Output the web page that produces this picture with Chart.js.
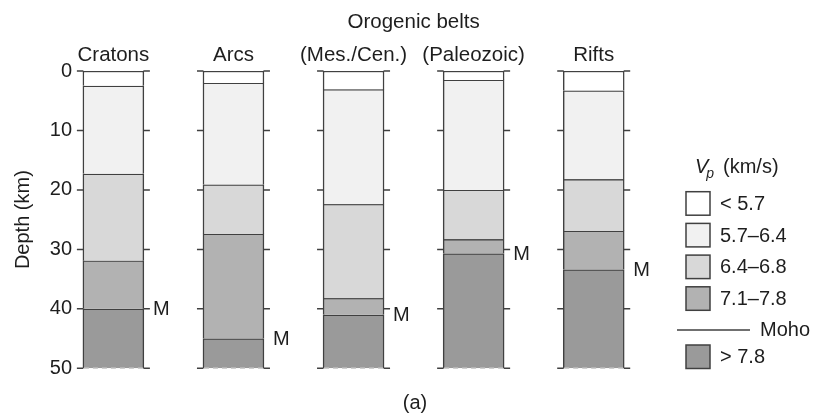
<!DOCTYPE html>
<html><head><meta charset="utf-8">
<script src="https://cdn.jsdelivr.net/npm/chart.js@4"></script>
<style>html,body{margin:0;padding:0;background:#fff}#wrap{width:813px;height:417px}</style>
</head><body><div id="wrap"><canvas id="c" width="813" height="417"></canvas></div>
<script>
// ---- data ----
const categories = ['Cratons', 'Arcs', '(Mes./Cen.)', '(Paleozoic)', 'Rifts'];
const groupTitle = 'Orogenic belts';
const groupSpan = [2, 3];            // categories covered by the group title
const surfaceDepth = 0;
const baseDepth = 50;
const base57 = [2.5, 2.0, 3.1, 1.5, 3.3];      // base of < 5.7 layer (km)
const base64 = [17.3, 19.1, 22.4, 20.0, 18.2]; // base of 5.7–6.4 layer
const base68 = [31.9, 27.4, 38.2, 28.3, 26.9]; // base of 6.4–6.8 layer
const moho   = [40.0, 45.0, 41.0, 30.7, 33.4]; // Moho depth
const depthTicks = [0, 10, 20, 30, 40, 50];
const layerNames = ['< 5.7', '5.7–6.4', '6.4–6.8', '7.1–7.8', '> 7.8'];
const layerColors = ['#ffffff', '#f1f1f1', '#d8d8d8', '#b2b2b2', '#9a9a9a'];
const mohoLabel = 'M';
const mohoLegend = 'Moho';
const yTitle = 'Depth (km)';
const panelLabel = '(a)';

// ---- build ----
const FONT = '"Liberation Sans", Arial, Helvetica, sans-serif';
const INK = '#1e1e1e';
const LINE = '#404040';
const LW = 1.5;
const BAR_W = 61;
const allSurface = categories.map(() => surfaceDepth);
const allBase = categories.map(() => baseDepth);
const bounds = [allSurface, base57, base64, base68, moho, allBase];

const datasets = layerNames.map((name, k) => ({
  label: name,
  data: categories.map((c, i) => ({ x: i, y: [bounds[k][i], bounds[k + 1][i]] })),
  backgroundColor: layerColors[k],
  borderColor: LINE,
  borderWidth: { top: LW, left: LW, right: LW, bottom: 0 },
  borderSkipped: false,
  barThickness: BAR_W,
  grouped: false
}));

const decor = {
  id: 'decor',
  afterDatasetsDraw(chart) {
    const ctx = chart.ctx;
    const xs = chart.scales.x, ys = chart.scales.y;
    ctx.save();
    ctx.strokeStyle = LINE;
    ctx.lineWidth = LW;
    categories.forEach((c, i) => {
      const xc = xs.getPixelForValue(i);
      const l = xc - BAR_W / 2, r = xc + BAR_W / 2;
      // tick stubs on both sides of every column
      depthTicks.forEach(v => {
        const y = ys.getPixelForValue(v);
        ctx.beginPath();
        ctx.moveTo(l - 6, y); ctx.lineTo(l + 0.5, y);
        ctx.moveTo(r - 0.5, y); ctx.lineTo(r + 6, y);
        ctx.stroke();
      });
      // dashed open bottom
      const yb = ys.getPixelForValue(baseDepth);
      ctx.save();
      ctx.strokeStyle = '#cfcfcf';
      ctx.setLineDash([5, 4]);
      ctx.beginPath(); ctx.moveTo(l + 1, yb); ctx.lineTo(r - 1, yb); ctx.stroke();
      ctx.restore();
      // column titles
      ctx.fillStyle = INK;
      ctx.font = '20.5px ' + FONT;
      ctx.textAlign = 'center';
      ctx.textBaseline = 'middle';
      ctx.fillText(c, xc, 55);
      // Moho label
      ctx.font = '20px ' + FONT;
      ctx.textAlign = 'left';
      ctx.fillText(mohoLabel, r + 9, ys.getPixelForValue(moho[i]) + 1);
    });
    // group title
    ctx.font = '20.5px ' + FONT;
    ctx.textAlign = 'center';
    ctx.fillText(groupTitle, xs.getPixelForValue((groupSpan[0] + groupSpan[1]) / 2), 22);
    // panel label
    ctx.font = '20px ' + FONT;
    ctx.fillText(panelLabel, 415, 403);

    // legend
    const lx = 686, sw = 24, sh = 23.5, tx = 720;
    ctx.textAlign = 'left';
    ctx.font = 'italic 20px ' + FONT;
    ctx.fillText('V', 695, 167);
    let w = ctx.measureText('V').width;
    ctx.font = 'italic 14px ' + FONT;
    ctx.fillText('p', 695 + w - 2, 174);
    ctx.font = '20px ' + FONT;
    ctx.fillText('(km/s)', 723, 167);
    const tops = [191.7, 223.4, 255.1, 286.8, 345];
    layerNames.forEach((name, k) => {
      const t = tops[k];
      ctx.fillStyle = layerColors[k];
      ctx.fillRect(lx, t, sw, sh);
      ctx.strokeStyle = LINE;
      ctx.lineWidth = LW;
      ctx.strokeRect(lx, t, sw, sh);
      ctx.fillStyle = INK;
      ctx.font = '20px ' + FONT;
      ctx.fillText(name, tx, t + sh / 2 + 1);
    });
    ctx.beginPath();
    ctx.moveTo(677, 330); ctx.lineTo(750, 330);
    ctx.stroke();
    ctx.fillText(mohoLegend, 760, 330);
    ctx.restore();
  }
};

new Chart(document.getElementById('c'), {
  type: 'bar',
  data: { datasets },
  options: {
    responsive: false,
    animation: false,
    devicePixelRatio: 1,
    layout: { padding: { top: 71, bottom: 48.7, left: 0, right: 153 } },
    plugins: { legend: { display: false }, tooltip: { enabled: false } },
    scales: {
      x: {
        type: 'linear',
        display: false,
        offset: false,
        grid: { offset: false },
        min: -0.303,
        max: 4.552
      },
      y: {
        type: 'linear',
        reverse: true,
        min: surfaceDepth,
        max: baseDepth,
        afterBuildTicks: s => { s.ticks = depthTicks.map(v => ({ value: v })); },
        afterFit: s => { s.width = 77; },
        grid: { display: false, drawTicks: false },
        border: { display: false },
        ticks: { padding: 5, color: INK, font: { size: 20, family: FONT } },
        title: { display: true, text: yTitle, color: INK, padding: { top: 11, bottom: 0 },
                 font: { size: 20, family: FONT } }
      }
    }
  },
  plugins: [decor]
});
</script>
</body></html>
